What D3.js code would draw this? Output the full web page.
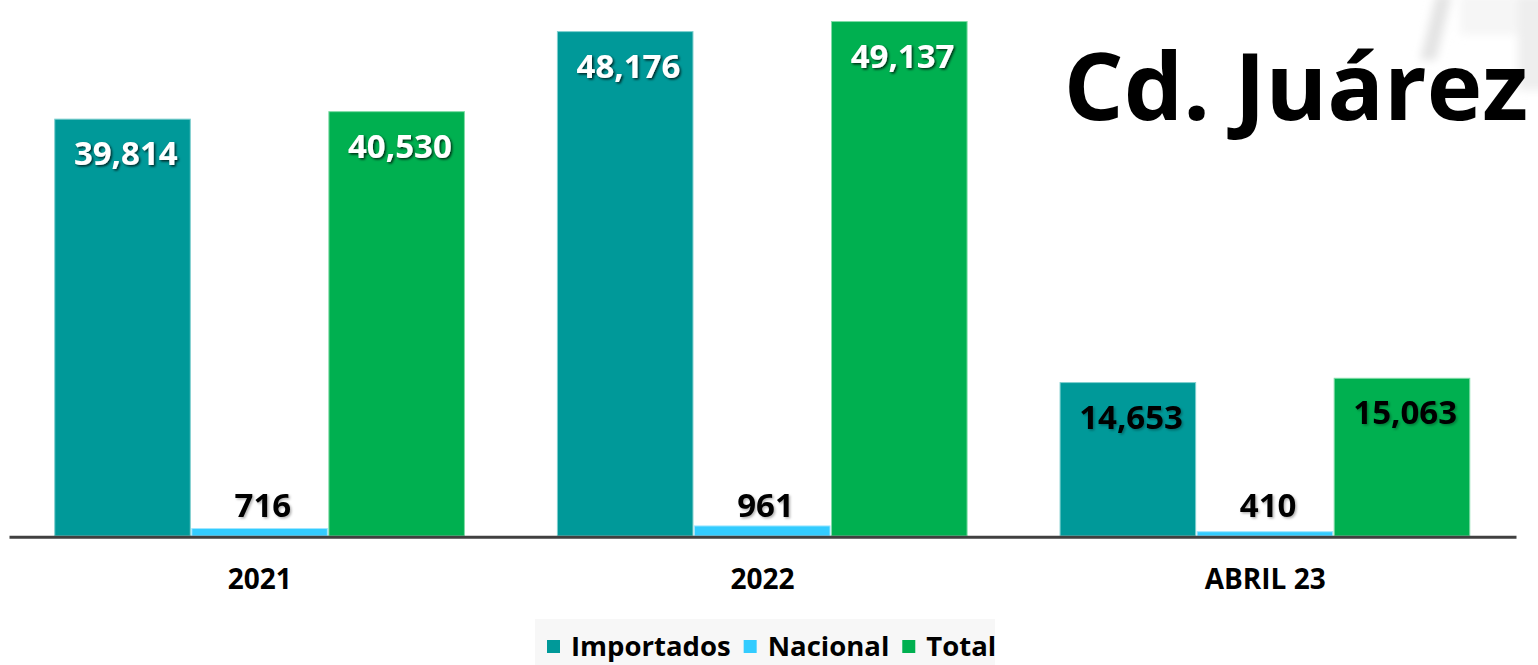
<!DOCTYPE html>
<html>
<head>
<meta charset="utf-8">
<script src="https://cdn.jsdelivr.net/npm/d3@7"></script>
<style>
  html, body { margin: 0; padding: 0; background: #ffffff; }
  svg { display: block; font-family: "Open Sans", "Noto Sans", sans-serif; }
</style>
</head>
<body>
<svg id="chart" width="1538" height="665"></svg>
<script>
// ---- data ----
const categories = ["2021", "2022", "ABRIL 23"];
const seriesNames = ["Importados", "Nacional", "Total"];
const importados = [39814, 48176, 14653];
const nacional = [716, 961, 410];
const total = [40530, 49137, 15063];
const seriesColors = ["#009999", "#33CCFF", "#00B050"];
const seriesStroke = ["#7fcfcf", "#9fe6ff", "#7fdca6"];
const titleText = "Cd. Juárez";

const seriesValues = [importados, nacional, total];

const svg = d3.select("#chart");

// filters
const defs = svg.append("defs");
const fDark = defs.append("filter").attr("id", "shDark").attr("x", "-20%").attr("y", "-30%").attr("width", "140%").attr("height", "160%");
fDark.append("feDropShadow").attr("dx", 1.5).attr("dy", 1.5).attr("stdDeviation", 1.2).attr("flood-color", "#000").attr("flood-opacity", 0.75);
const fLight = defs.append("filter").attr("id", "shLight").attr("x", "-20%").attr("y", "-30%").attr("width", "140%").attr("height", "160%");
fLight.append("feDropShadow").attr("dx", 1.5).attr("dy", 1.5).attr("stdDeviation", 1.2).attr("flood-color", "#000").attr("flood-opacity", 0.3);
const fBlur = defs.append("filter").attr("id", "blur");
fBlur.append("feGaussianBlur").attr("stdDeviation", 4);

// faint background decoration (top-right)
const deco = svg.append("g").attr("filter", "url(#blur)");
deco.append("path").attr("d", "M1436,-5 L1452,-5 L1436,60 L1420,60 Z").attr("fill", "#e4e4e4");
deco.append("rect").attr("x", 1518).attr("y", -5).attr("width", 30).attr("height", 95).attr("fill", "#eeeeee");
deco.append("rect").attr("x", 1460).attr("y", -5).attr("width", 58).attr("height", 40).attr("fill", "#f6f6f6");

// scales
const x0 = d3.scaleBand().domain(categories).range([9, 1516]).paddingInner(0.182).paddingOuter(0.09);
const x1 = d3.scaleBand().domain(seriesNames).range([0, x0.bandwidth()]).padding(0);
const y = d3.scaleLinear().domain([0, 50000]).range([536, 12.5]);

// bars
const data = [];
categories.forEach((c, ci) => {
  seriesNames.forEach((s, si) => {
    data.push({ cat: c, ci, series: s, si, value: seriesValues[si][ci] });
  });
});

const gBars = svg.append("g");
gBars.selectAll("rect").data(data).join("rect")
  .attr("x", d => x0(d.cat) + x1(d.series) + 0.5)
  .attr("y", d => y(d.value))
  .attr("width", x1.bandwidth() - 1.5)
  .attr("height", d => y(0) - y(d.value))
  .attr("fill", d => seriesColors[d.si])
  .attr("stroke", d => seriesStroke[d.si])
  .attr("stroke-width", 1);

// axis line
const xAxis = d3.axisBottom(x0).tickSize(0).tickPadding(0);
const gAxis = svg.append("g").attr("transform", `translate(0,${y(0) + 0.7})`).call(xAxis);
gAxis.select(".domain").attr("stroke", "#404040").attr("stroke-width", 3);
gAxis.selectAll(".tick text")
  .attr("y", 52.3).attr("dy", 0)
  .attr("font-family", "'Open Sans', sans-serif")
  .attr("font-weight", 700)
  .attr("font-size", 28)
  .attr("fill", "#000");

// value labels
const fmt = d3.format(",");
svg.append("g").selectAll("text").data(data).join("text")
  .attr("x", d => x0(d.cat) + x1(d.series) + x1.bandwidth() / 2 + 3)
  .attr("y", d => d.series === "Nacional" ? y(0) - 19 : y(d.value) + 46)
  .attr("text-anchor", "middle")
  .attr("font-weight", 700)
  .attr("font-size", 33)
  .attr("fill", d => (d.series !== "Nacional" && d.ci < 2) ? "#ffffff" : "#000000")
  .attr("filter", d => (d.series !== "Nacional" && d.ci < 2) ? "url(#shDark)" : "url(#shLight)")
  .text(d => fmt(d.value));

// title
svg.append("text")
  .attr("x", 1296).attr("y", 120)
  .attr("text-anchor", "middle")
  .attr("font-weight", 700)
  .attr("font-size", 94)
  .attr("fill", "#000")
  .text(titleText);

// legend
const legend = svg.append("g");
legend.append("rect").attr("x", 535).attr("y", 619).attr("width", 460).attr("height", 46).attr("fill", "#f7f7f7");
let lx = 547;
seriesNames.forEach((s, i) => {
  legend.append("rect").attr("x", lx).attr("y", 640).attr("width", 13).attr("height", 13).attr("fill", seriesColors[i]);
  const t = legend.append("text").attr("x", lx + 24).attr("y", 656)
    .attr("font-weight", 700).attr("font-size", 27.5).attr("fill", "#000").text(s);
  lx = lx + 24 + t.node().getComputedTextLength() + 13;
});
</script>
</body>
</html>
